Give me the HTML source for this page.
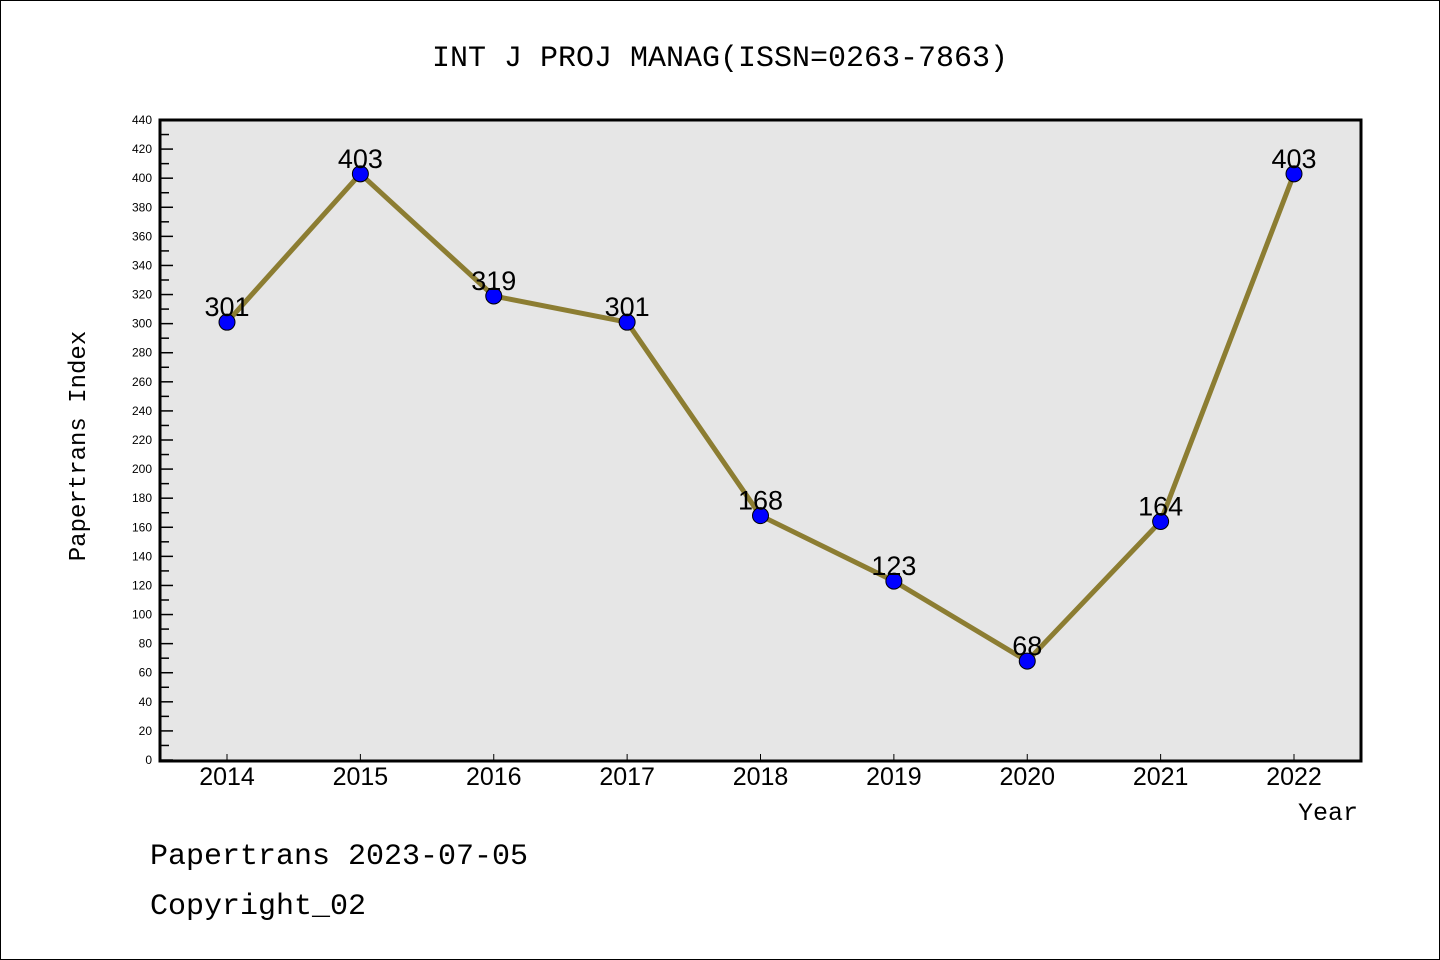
<!DOCTYPE html>
<html><head><meta charset="utf-8"><style>
body{margin:0;background:#fff}
svg{display:block}
text{font-family:"Liberation Sans","Noto Sans CJK SC",sans-serif}
.mono{font-family:"Liberation Mono","Noto Sans CJK SC",monospace}
</style></head><body>
<svg id="c" width="1440" height="960" xmlns="http://www.w3.org/2000/svg">
<rect x="0.5" y="0.5" width="1439" height="959" fill="#fff" stroke="#000"/>
<text class="mono" x="720" y="66" font-size="30" text-anchor="middle">INT J PROJ MANAG(ISSN=0263-7863)</text>
<rect x="160" y="120" width="1201" height="641" fill="#e6e6e6"/>
<g id="axes"></g>
<g id="marks"></g>
<rect x="160" y="120" width="1201" height="641" fill="none" stroke="#000" stroke-width="3"/>
<text class="mono" x="85" y="446" font-size="24" text-anchor="middle" transform="rotate(-90 85 446)">Papertrans Index</text>
<text class="mono" x="1358" y="820" font-size="25" text-anchor="end">Year</text>
<text class="mono" x="150" y="864" font-size="30">Papertrans 2023-07-05</text>
<text class="mono" x="150" y="914" font-size="30">Copyright_02</text>
</svg>
<script>
const years = [2014,2015,2016,2017,2018,2019,2020,2021,2022];
const values = [301,403,319,301,168,123,68,164,403];
const yTicks = [0,20,40,60,80,100,120,140,160,180,200,220,240,260,280,300,320,340,360,380,400,420,440];
const NS="http://www.w3.org/2000/svg";
const X0=227,X1=1294,Y0=760,Y1=120,YMAX=440;
const xs=i=>X0+(X1-X0)*i/(years.length-1);
const ys=v=>Y0-(Y0-Y1)*v/YMAX;
function mk(t,a,p){const e=document.createElementNS(NS,t);for(const k in a)e.setAttribute(k,a[k]);p.appendChild(e);return e;}
const ax=document.getElementById('axes'),mg=document.getElementById('marks');
yTicks.forEach(v=>{
  const y=ys(v);
  const l=mk('line',{x1:160,x2:173,y1:y,y2:y,stroke:'#000','stroke-width':1.5},ax);
  
  
  if(v<YMAX){const m=ys(v+10);const ml=mk('line',{x1:160,x2:169,y1:m,y2:m,stroke:'#000','stroke-width':1.5},ax);
  
  }
  const t=mk('text',{x:152,y:y+4,'font-size':12,'text-anchor':'end'},ax);t.textContent=v;
  
  
});
years.forEach((yr,i)=>{
  const x=xs(i);
  const l=mk('line',{x1:x,x2:x,y1:760,y2:754,stroke:'#000','stroke-width':1},ax);
  
  
  const t=mk('text',{x:x,y:785,'font-size':25,'text-anchor':'middle'},ax);t.textContent=yr;
  
  
});
const pl=mk('polyline',{points:values.map((v,i)=>xs(i)+','+ys(v)).join(' '),fill:'none',stroke:'#8c7d32','stroke-width':5,'stroke-linejoin':'round'},mg);


values.forEach((v,i)=>{
  const c=mk('circle',{cx:xs(i),cy:ys(v),r:8,fill:'#0000ff',stroke:'#000','stroke-width':1},mg);
  
  
  const t=mk('text',{x:xs(i),y:ys(v)-6,'font-size':27,'text-anchor':'middle'},mg);t.textContent=v;
  
  
});
</script>
</body></html>
